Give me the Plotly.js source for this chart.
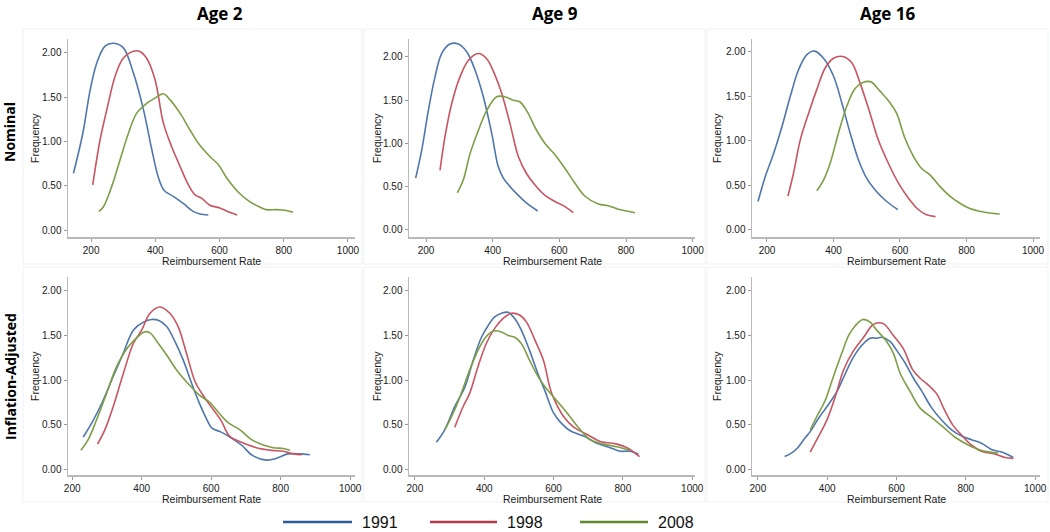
<!DOCTYPE html>
<html><head><meta charset="utf-8">
<script src="https://cdn.plot.ly/plotly-3.0.1.min.js"></script>
<style>html,body{margin:0;padding:0;background:#fff}#chart{width:1050px;height:532px}</style>
</head><body><div id="chart"></div>
<script>
// ---------- labels ----------
const years = ['1991', '1998', '2008'];
const ageTitles = ['Age 2', 'Age 9', 'Age 16'];
const rowTitles = ['Nominal', 'Inflation-Adjusted'];
const xTickVals = [200, 400, 600, 800, 1000];
const yTickVals = [0, 0.5, 1, 1.5, 2];
const xAxisLabel = 'Reimbursement Rate';
const yAxisLabel = 'Frequency';

// ---------- Nominal, Age 2 ----------
const nomAge2_1991_x = [145,174,197,218,244,271,300,332,363,389,409,427,456,487,518,539,565];
const nomAge2_1991_y = [0.64,1.09,1.58,1.89,2.08,2.11,2.06,1.77,1.36,0.91,0.60,0.45,0.38,0.30,0.21,0.18,0.17];
const nomAge2_1998_x = [205,228,249,275,300,332,350,373,399,425,451,477,503,523,544,570,601,632,655];
const nomAge2_1998_y = [0.51,1.02,1.36,1.74,1.94,2.02,2.02,1.94,1.70,1.21,0.94,0.72,0.51,0.40,0.36,0.28,0.25,0.20,0.17];
const nomAge2_2008_x = [224,238,264,290,316,342,373,399,425,446,477,508,534,570,596,622,658,694,725,746,777,808,829];
const nomAge2_2008_y = [0.21,0.26,0.49,0.79,1.09,1.32,1.43,1.49,1.54,1.47,1.32,1.13,0.98,0.83,0.74,0.59,0.43,0.32,0.26,0.23,0.23,0.22,0.20];

// ---------- Nominal, Age 9 ----------
const nomAge9_1991_x = [169,187,207,227,247,272,297,322,347,372,397,417,432,457,477,502,535];
const nomAge9_1991_y = [0.60,0.92,1.38,1.77,2.04,2.15,2.15,2.06,1.85,1.54,1.12,0.73,0.60,0.48,0.40,0.31,0.22];
const nomAge9_1998_x = [242,257,277,302,327,357,382,407,427,452,477,502,527,557,587,617,642];
const nomAge9_1998_y = [0.69,1.08,1.46,1.77,1.96,2.04,1.98,1.79,1.58,1.23,0.85,0.65,0.52,0.40,0.33,0.27,0.20];
const nomAge9_2008_x = [294,312,332,357,382,412,437,462,482,502,532,557,587,617,647,677,717,747,777,802,827];
const nomAge9_2008_y = [0.43,0.58,0.88,1.15,1.38,1.54,1.54,1.50,1.48,1.38,1.15,1.00,0.87,0.71,0.54,0.39,0.30,0.28,0.24,0.22,0.20];

// ---------- Nominal, Age 16 ----------
const nomAge16_1991_x = [173,195,220,245,270,295,320,343,370,400,425,450,475,500,530,560,593];
const nomAge16_1991_y = [0.32,0.60,0.86,1.16,1.50,1.80,1.97,2.01,1.93,1.73,1.43,1.09,0.79,0.58,0.43,0.32,0.23];
const nomAge16_1998_x = [263,280,300,325,350,375,400,428,455,480,510,535,565,595,625,655,680,707];
const nomAge16_1998_y = [0.38,0.64,1.01,1.31,1.58,1.82,1.93,1.95,1.88,1.65,1.31,1.01,0.75,0.53,0.36,0.23,0.17,0.15];
const nomAge16_2008_x = [350,370,390,415,440,465,490,505,515,540,570,590,615,640,665,690,720,750,780,810,840,870,900];
const nomAge16_2008_y = [0.44,0.56,0.75,1.09,1.39,1.59,1.66,1.67,1.66,1.56,1.43,1.31,1.03,0.83,0.69,0.62,0.49,0.38,0.30,0.24,0.21,0.19,0.18];

// ---------- Inflation-Adjusted, Age 2 ----------
const adjAge2_1991_x = [232,261,289,318,347,376,405,429,448,472,496,520,544,566,587,602,626,654,687,720,759,788,821,855,884];
const adjAge2_1991_y = [0.36,0.55,0.77,1.04,1.30,1.56,1.65,1.68,1.67,1.60,1.43,1.22,0.96,0.74,0.56,0.46,0.42,0.36,0.27,0.15,0.10,0.12,0.17,0.17,0.16];
const adjAge2_1998_x = [273,294,318,347,376,400,424,453,481,505,529,554,578,600,628,653,687,730,774,808,837,861];
const adjAge2_1998_y = [0.28,0.44,0.70,1.07,1.41,1.56,1.75,1.82,1.75,1.60,1.30,0.98,0.82,0.70,0.55,0.37,0.30,0.24,0.21,0.20,0.17,0.16];
const adjAge2_2008_x = [225,246,270,299,328,361,385,407,424,448,472,501,529,566,596,620,649,683,716,750,779,808,827];
const adjAge2_2008_y = [0.21,0.33,0.55,0.85,1.15,1.37,1.47,1.54,1.53,1.41,1.28,1.11,0.98,0.83,0.75,0.64,0.52,0.44,0.33,0.27,0.24,0.23,0.21];

// ---------- Inflation-Adjusted, Age 9 ----------
const adjAge9_1991_x = [262,286,315,344,368,392,411,430,450,469,488,507,531,555,576,600,619,648,687,725,763,792,821,845];
const adjAge9_1991_y = [0.30,0.44,0.70,0.92,1.22,1.48,1.61,1.71,1.75,1.76,1.69,1.56,1.33,1.07,0.87,0.63,0.53,0.43,0.37,0.29,0.24,0.20,0.20,0.17];
const adjAge9_1998_x = [315,339,358,382,406,430,454,478,502,522,546,571,589,600,629,658,696,735,783,812,848];
const adjAge9_1998_y = [0.47,0.70,0.85,1.15,1.41,1.58,1.69,1.75,1.73,1.65,1.45,1.22,0.92,0.80,0.59,0.47,0.39,0.31,0.28,0.24,0.14];
const adjAge9_2008_x = [286,306,330,354,378,402,426,450,469,488,507,531,555,574,600,639,673,706,744,783,821];
const adjAge9_2008_y = [0.44,0.59,0.81,1.07,1.30,1.47,1.55,1.54,1.50,1.48,1.41,1.22,1.04,0.93,0.81,0.63,0.46,0.33,0.28,0.25,0.21];

// ---------- Inflation-Adjusted, Age 16 ----------
const adjAge16_1991_x = [277,293,313,332,351,375,399,428,452,476,500,524,543,558,582,601,625,649,672,701,730,759,788,816,845,874,903,937];
const adjAge16_1991_y = [0.14,0.17,0.23,0.33,0.42,0.57,0.70,0.87,1.07,1.26,1.39,1.47,1.47,1.48,1.43,1.33,1.19,1.02,0.88,0.69,0.55,0.44,0.37,0.33,0.29,0.22,0.19,0.13];
const adjAge16_1998_x = [351,370,399,423,447,476,505,529,543,563,591,620,646,668,687,715,739,763,788,816,845,884,913,937];
const adjAge16_1998_y = [0.19,0.33,0.55,0.81,1.11,1.33,1.48,1.61,1.64,1.63,1.50,1.35,1.12,1.02,0.96,0.85,0.66,0.49,0.38,0.27,0.20,0.17,0.13,0.12];
const adjAge16_2008_x = [351,370,394,418,442,462,481,503,524,543,572,591,611,638,667,701,735,768,807,836,869,893];
const adjAge16_2008_y = [0.44,0.59,0.77,1.04,1.30,1.50,1.61,1.68,1.65,1.56,1.43,1.30,1.07,0.88,0.69,0.58,0.47,0.36,0.27,0.22,0.19,0.18];

// ---------- styling / geometry ----------
const W = 1050, H = 532;
const lineColors = ['#4f77ae', '#c85562', '#7e9e46'];
const legendColors = ['#2f5c98', '#b23c4b', '#62892f'];
const colPx = [[68, 355], [409, 695], [752, 1040]];
const rowPx = [[39, 237], [277, 475]];
const xRanges = [[128, 1022], [149, 1007], [155, 1021], [188, 1014], [183, 1008], [183, 1014]];
const yRanges = [[-0.079, 2.158], [-0.081, 2.208], [-0.079, 2.146], [-0.067, 2.157], [-0.067, 2.157], [-0.067, 2.157]];
const fx = px => px / W;
const fy = py => 1 - py / H;

const panels = [
  [[nomAge2_1991_x, nomAge2_1991_y], [nomAge2_1998_x, nomAge2_1998_y], [nomAge2_2008_x, nomAge2_2008_y]],
  [[nomAge9_1991_x, nomAge9_1991_y], [nomAge9_1998_x, nomAge9_1998_y], [nomAge9_2008_x, nomAge9_2008_y]],
  [[nomAge16_1991_x, nomAge16_1991_y], [nomAge16_1998_x, nomAge16_1998_y], [nomAge16_2008_x, nomAge16_2008_y]],
  [[adjAge2_1991_x, adjAge2_1991_y], [adjAge2_1998_x, adjAge2_1998_y], [adjAge2_2008_x, adjAge2_2008_y]],
  [[adjAge9_1991_x, adjAge9_1991_y], [adjAge9_1998_x, adjAge9_1998_y], [adjAge9_2008_x, adjAge9_2008_y]],
  [[adjAge16_1991_x, adjAge16_1991_y], [adjAge16_1998_x, adjAge16_1998_y], [adjAge16_2008_x, adjAge16_2008_y]]
];

const traces = [];
const layout = {
  width: W, height: H,
  margin: {l: 0, r: 0, t: 0, b: 0},
  paper_bgcolor: '#ffffff', plot_bgcolor: '#ffffff',
  showlegend: false,
  font: {family: 'Liberation Sans, Arial, sans-serif', color: '#222'},
  annotations: [], shapes: []
};

const tickFont = {family: 'Liberation Sans, Arial, sans-serif', size: 10, color: '#1a1a1a'};
const labelFont = {family: 'Liberation Sans, Arial, sans-serif', size: 10.5, color: '#1a1a1a'};

panels.forEach((series, p) => {
  const r = Math.floor(p / 3), c = p % 3;
  const n = p === 0 ? '' : String(p + 1);
  series.forEach((s, k) => {
    traces.push({
      type: 'scatter', mode: 'lines',
      x: s[0], y: s[1], name: years[k],
      xaxis: 'x' + n, yaxis: 'y' + n,
      line: {color: lineColors[k], width: 1.6, shape: 'spline', smoothing: 1},
      hoverinfo: 'skip'
    });
  });
  const common = {
    showline: true, linecolor: '#b9b9b9', linewidth: 1.5,
    ticks: 'outside', ticklen: 3, tickwidth: 1, tickcolor: '#9a9a9a',
    showgrid: false, zeroline: false, fixedrange: true, tickfont: tickFont
  };
  layout['xaxis' + n] = Object.assign({}, common, {
    domain: [fx(colPx[c][0]), fx(colPx[c][1])],
    range: xRanges[p], tickvals: xTickVals, anchor: 'y' + n
  });
  layout['yaxis' + n] = Object.assign({}, common, {
    domain: [fy(rowPx[r][1]), fy(rowPx[r][0])],
    range: yRanges[p], tickvals: yTickVals, tickformat: '.2f', anchor: 'x' + n
  });
  // faint panel frame
  const fr = [[23, 362], [364, 705], [707, 1048]][c];
  const fyr = [[29, 264], [267, 502]][r];
  layout.shapes.push({type: 'rect', xref: 'paper', yref: 'paper', layer: 'below',
    x0: fx(fr[0]), x1: fx(fr[1]), y0: fy(fyr[1]), y1: fy(fyr[0]),
    line: {color: '#edf1f5', width: 1}, fillcolor: 'rgba(0,0,0,0)'});
  // axis titles
  layout.annotations.push({xref: 'paper', yref: 'paper', showarrow: false,
    x: fx((colPx[c][0] + colPx[c][1]) / 2), y: fy([261, 499][r]),
    xanchor: 'center', yanchor: 'middle', text: xAxisLabel, font: labelFont});
  layout.annotations.push({xref: 'paper', yref: 'paper', showarrow: false,
    x: fx([35, 377, 717][c]), y: fy((rowPx[r][0] + rowPx[r][1]) / 2),
    xanchor: 'center', yanchor: 'middle', textangle: -90, text: yAxisLabel, font: labelFont});
});

// column titles
const titleFont = {family: 'Open Sans, sans-serif', size: 17, color: '#000'};
[220, 555, 888].forEach((x, i) => {
  layout.annotations.push({xref: 'paper', yref: 'paper', showarrow: false,
    x: fx(x), y: fy(13), xanchor: 'center', yanchor: 'middle',
    text: '<b>' + ageTitles[i] + '</b>', font: titleFont});
});
// row titles
[[9, 132], [10, 377]].forEach((pt, i) => {
  layout.annotations.push({xref: 'paper', yref: 'paper', showarrow: false,
    x: fx(pt[0]), y: fy(pt[1]), xanchor: 'center', yanchor: 'middle', textangle: -90,
    text: '<b>' + rowTitles[i] + '</b>', font: {family: 'Open Sans, sans-serif', size: 14, color: '#000'}});
});
// legend
const legLines = [[283, 352], [430, 497], [580, 648]];
years.forEach((yr, k) => {
  layout.shapes.push({type: 'line', xref: 'paper', yref: 'paper',
    x0: fx(legLines[k][0]), x1: fx(legLines[k][1]), y0: fy(522), y1: fy(522),
    line: {color: legendColors[k], width: 2.5}});
  layout.annotations.push({xref: 'paper', yref: 'paper', showarrow: false,
    x: fx(legLines[k][1] + 8), y: fy(522), xanchor: 'left', yanchor: 'middle',
    text: yr, font: {family: 'Liberation Sans Narrow, Arial Narrow, sans-serif', size: 16, color: '#111'}});
});

Plotly.newPlot('chart', traces, layout, {staticPlot: true, displayModeBar: false});
</script>
</body></html>
